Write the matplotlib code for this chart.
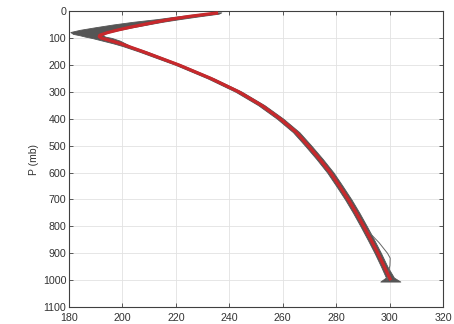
import matplotlib
matplotlib.use("Agg")
import matplotlib.pyplot as plt

plt.rcParams['font.family'] = ['Liberation Sans', 'DejaVu Sans']

# mean temperature profile (red)
p_mean = [7, 10, 20, 30, 40, 50, 60, 70, 80, 90, 95, 100, 120, 150, 200,
          250, 300, 350, 400, 450, 500, 550, 600, 650, 700, 750, 800,
          850, 900, 950, 1000]
t_mean = [235.8, 233, 225, 218.5, 213, 208, 203, 198.5, 194.5, 191.5, 191.3,
          192, 199, 207.5, 221, 233, 243.5, 252, 259, 265, 269.5, 273.8,
          277.8, 281.2, 284.5, 287.5, 290.3, 293, 295.6, 298, 300.4]

# envelope of the individual profiles (gray)
p_env = [5, 10, 20, 30, 40, 50, 60, 70, 78, 85, 90, 95, 100, 110, 120, 130,
         150, 200, 250, 300, 350, 400, 450, 500, 550, 600, 650, 700, 750,
         800, 850, 900, 950, 990, 1005]
t_lo = [235.5, 229, 220.5, 213, 204, 196.5, 190, 184, 180.5, 181.5, 184,
        186, 188.5, 192.5, 196.5, 200, 206, 219.8, 231.8, 242.3, 250.8, 257.8,
        263.8, 268.3, 272.6, 276.6, 280.0, 283.3, 286.3, 289.1, 291.8, 294.4,
        296.8, 298.6, 296.5]
t_hi = [237, 236, 228.5, 221.5, 215, 209.5, 204, 199, 195.5, 193, 192.8,
        193.5, 196, 199, 201, 203, 209, 222.2, 234.2, 244.7, 253.2, 260.2,
        266.2, 270.7, 275.0, 279.0, 282.4, 285.7, 288.7, 291.5, 294.2, 296.8,
        299.2, 301.6, 304]

# one stray profile near the surface
p_out = [800, 825, 860, 900, 918, 945, 975, 1000]
t_out = [290.3, 292.6, 296, 299.2, 300.2, 300.1, 299.5, 299]

fig = plt.figure(figsize=(4.54, 3.24), dpi=100)
ax = fig.add_axes([0.152, 0.052, 0.824, 0.914])

ax.fill_betweenx(p_env, t_lo, t_hi, color='#555555', lw=0.6, zorder=2)
ax.plot(t_out, p_out, color='#666666', lw=0.7, zorder=2)
ax.plot(t_mean, p_mean, color='#c8282c', lw=2.3, zorder=3,
        solid_joinstyle='round', solid_capstyle='butt')

ax.set_xlim(180, 320)
ax.set_ylim(1100, 0)
ax.set_xticks(range(180, 321, 20))
ax.set_yticks(range(0, 1101, 100))
ax.grid(True, color='#e2e2e2', lw=0.6)
ax.set_axisbelow(True)
ax.tick_params(direction='in', length=3, width=0.6, colors='#404040',
               labelsize=7.7, labelcolor='#333333', pad=2,
               top=True, right=True)
ax.tick_params(axis='x', pad=4)
for s in ax.spines.values():
    s.set_color('#404040')
    s.set_linewidth(0.8)
ax.set_ylabel('P (mb)', fontsize=7.5, color='#333333', labelpad=3)

fig.savefig('out.png', dpi=100)
